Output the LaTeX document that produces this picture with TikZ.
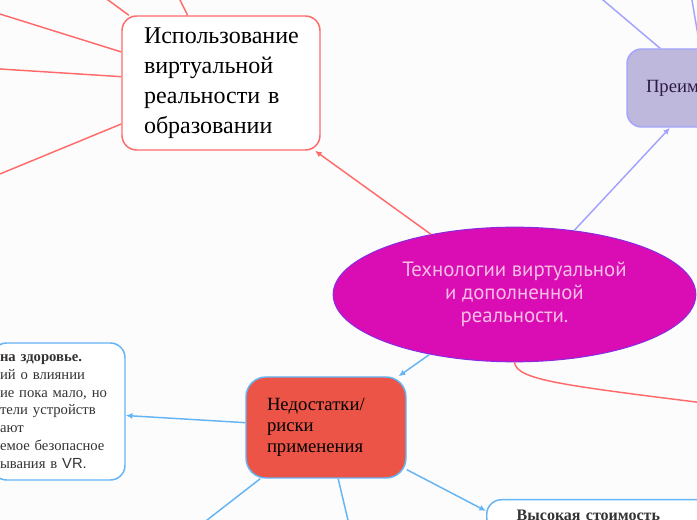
\documentclass[tikz,border=0pt]{standalone}
\usepackage{fontspec}
\setmainfont{Liberation Serif}
\setsansfont{Liberation Sans}
\newfontfamily\techfont{PT Sans}
\usetikzlibrary{shapes.geometric, arrows.meta}

\definecolor{bgcol}{HTML}{FCFCFC}
\definecolor{redln}{HTML}{FF6B6B}
\definecolor{lilacln}{HTML}{A3A3FF}
\definecolor{lilacfill}{HTML}{BEB8DC}
\definecolor{blueln}{HTML}{64B5F6}
\definecolor{negfill}{HTML}{EB5446}
\definecolor{techfill}{HTML}{DA0DB4}
\definecolor{techdraw}{HTML}{8A2BE2}
\definecolor{techtext}{HTML}{F7BDE4}
\definecolor{preimtext}{HTML}{2E1A47}

\begin{document}
\begin{tikzpicture}[
  x=0.75pt, y=-0.75pt,
  >={Latex[length=5pt,width=4.5pt]},
  line/.style={line width=1.1pt, draw=#1},
  arr/.style={->, line width=1.1pt, draw=#1},
  box/.style={draw=#1, line width=1.1pt, rounded corners=11pt,
              align=left, inner sep=0pt},
]

\useasboundingbox (0,0) rectangle (697,520);
\fill[bgcol] (0,0) rectangle (697,520);
\clip (0,0) rectangle (697,520);

%% ===== CENTRE =====

\node[ellipse, draw=techdraw, line width=0.75pt, fill=techfill,
      minimum width=272pt, minimum height=101pt, inner sep=0pt,
      text=techtext, align=center,
      font=\techfont\fontsize{15.6}{17.25}\selectfont] (tech) at (514.5,294.5)
    {Технологии виртуальной\\и дополненной\\реальности.};

%% ===== TOP: EDUCATION / ADVANTAGES =====

\node[box=redln, fill=white, minimum width=148.5pt, minimum height=100.5pt,
      text width=115.5pt, font=\fontsize{18}{22.5}\selectfont] (use) at (221,83)
    {Использование\\виртуальной\\реальности в\\образовании};

\node[box=lilacln, fill=lilacfill, minimum width=120pt, minimum height=58.5pt,
      text width=91.5pt, text=preimtext,
      font=\fontsize{14}{16}\selectfont] (preim) at (707,88)
    {Преим};

%% ===== BOTTOM: RISKS =====

\node[box=blueln, fill=negfill, rounded corners=15pt,
      minimum width=120pt, minimum height=75.75pt, text width=88.5pt,
      font=\fontsize{14}{16}\selectfont] (neg) at (326,427.5)
    {Недостатки/\\риски\\применения};

\node[box=blueln, fill=white, minimum width=99.75pt, minimum height=102.75pt,
      text width=87.75pt, text=black!80,
      font=\fontsize{11}{13.4}\selectfont] (health) at (58.5,411.5)
    {{\bfseries на здоровье.}\\ий о влиянии\\ие пока мало, но\\тели устройств\\ают\\емое безопасное\\ывания в {\sffamily VR.}};

\node[box=blueln, fill=white, anchor=north west, minimum width=225pt,
      text width=180pt, inner ysep=8pt, text=black!80,
      font=\bfseries\fontsize{12}{14}\selectfont] (cost) at (486,499)
    {Высокая стоимость};

%% ===== FREE ENDS =====

\coordinate (eduA) at (-20,7.8);
\coordinate (eduB) at (-20,67.7);
\coordinate (eduC) at (87.6,-15);
\coordinate (eduD) at (172.6,-15);
\coordinate (eduE) at (-20,182.2);
\coordinate (advA) at (585.3,-15);
\coordinate (advB) at (689.4,-15);
\coordinate (techR) at (720,405);
\coordinate (negA) at (181.4,540);
\coordinate (negB) at (352.7,540);

%% ===== CONNECTORS =====

\draw[arr=redln] (tech) -- (use);
\draw[arr=lilacln] (tech) -- (preim);
\draw[arr=blueln] (tech) -- (neg);
\draw[line=redln] (tech.south) .. controls (517,380) and (560,385) .. (techR);

\draw[line=redln] (use) -- (eduA);
\draw[line=redln] (use) -- (eduB);
\draw[line=redln] (use) -- (eduC);
\draw[line=redln] (use) -- (eduD);
\draw[line=redln] (use) -- (eduE);

\draw[line=lilacln] (preim) -- (advA);
\draw[line=lilacln] (preim) -- (advB);

\draw[arr=blueln] (neg) -- (health);
\draw[arr=blueln] (neg) -- ([yshift=-9pt]cost.north west);
\draw[line=blueln] (neg) -- (negA);
\draw[line=blueln] (neg) -- (negB);

\end{tikzpicture}
\end{document}
